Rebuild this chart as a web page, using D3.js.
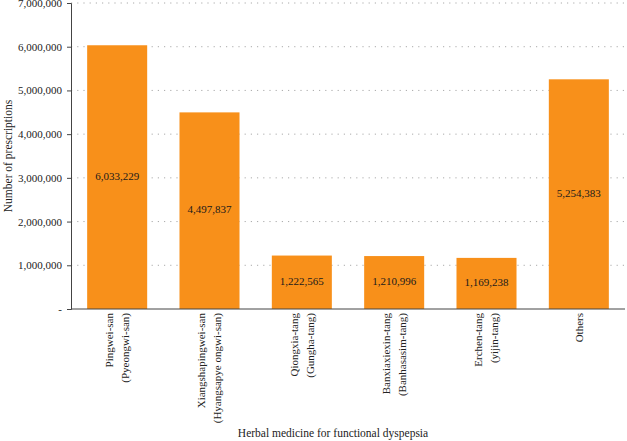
<!DOCTYPE html>
<html>
<head>
<meta charset="utf-8">
<script src="https://cdn.jsdelivr.net/npm/d3@7"></script>
<style>
  body { margin: 0; background: #fff; }
  svg, svg text { font-family: "Liberation Serif", "DejaVu Serif", serif; }
  .axis text { font-size: 11px; fill: #222; }
  .grid line { stroke: #aaa; stroke-dasharray: 1.2 5; }
</style>
</head>
<body>
<div id="chart"></div>
<script>
const categories = [
  ['Pingwei-san', '(Pyeongwi-san)'],
  ['Xiangshapingwei-san', '(Hyangsapye ongwi-san)'],
  ['Qiongxia-tang', '(Gungha-tang)'],
  ['Banxiaxiexin-tang', '(Banhasasim-tang)'],
  ['Erchen-tang', '(yijin-tang)'],
  ['Others']
];
const values = [6033229, 4497837, 1222565, 1210996, 1169238, 5254383];
const yTicks = [0, 1000000, 2000000, 3000000, 4000000, 5000000, 6000000, 7000000];

const width = 627, height = 441;
const margin = { top: 3, right: 2, bottom: 132, left: 71 };
const innerW = width - margin.left - margin.right;
const innerH = height - margin.top - margin.bottom;

const svg = d3.select('#chart').append('svg')
  .attr('width', width)
  .attr('height', height);

const g = svg.append('g')
  .attr('transform', `translate(${margin.left},${margin.top})`);

const x = d3.scaleBand()
  .domain(d3.range(categories.length))
  .range([0, innerW])
  .paddingInner(0.35)
  .paddingOuter(0.175);

const y = d3.scaleLinear()
  .domain([0, 7000000])
  .range([innerH, 0]);

const fmt = d3.format(',');

// dotted gridlines
g.append('g')
  .attr('class', 'grid')
  .selectAll('line')
  .data(yTicks.slice(1))
  .join('line')
  .attr('x1', 0)
  .attr('x2', innerW)
  .attr('y1', d => y(d))
  .attr('y2', d => y(d));

g.selectAll('.bar')
  .data(values)
  .join('rect')
  .attr('class', 'bar')
  .attr('x', (d, i) => x(i))
  .attr('y', d => y(d))
  .attr('width', x.bandwidth())
  .attr('height', d => innerH - y(d))
  .attr('fill', '#f8901a');

g.selectAll('.bar-label')
  .data(values)
  .join('text')
  .attr('class', 'bar-label')
  .attr('x', (d, i) => x(i) + x.bandwidth() / 2)
  .attr('y', d => (y(d) + innerH) / 2)
  .attr('text-anchor', 'middle')
  .attr('dominant-baseline', 'middle')
  .attr('font-size', 11)
  .attr('fill', '#1a1a1a')
  .text(d => fmt(d));

// y axis
const yAxisG = g.append('g')
  .attr('class', 'axis')
  .call(d3.axisLeft(y).tickValues(yTicks).tickSize(4).tickPadding(5)
    .tickFormat(d => d === 0 ? '-' : fmt(d)));
yAxisG.attr('font-family', null);
yAxisG.selectAll('path, line').attr('stroke', '#444');

// x axis
const xAxisG = g.append('g')
  .attr('class', 'axis')
  .attr('transform', `translate(0,${innerH})`)
  .call(d3.axisBottom(x).tickSize(0).tickFormat(''));
xAxisG.attr('font-family', null);
xAxisG.select('.domain').attr('stroke', '#444').attr('d', `M0,0H${innerW}`);

xAxisG.selectAll('.tick').each(function (d) {
  const lines = categories[d];
  const t = d3.select(this).append('text')
    .attr('transform', 'rotate(-90)')
    .attr('text-anchor', 'end')
    .attr('font-size', 11.5)
    .attr('fill', '#222');
  const spacing = 16;
  const offset = -(lines.length - 1) * spacing / 2;
  lines.forEach((line, k) => {
    t.append('tspan')
      .attr('x', -4)
      .attr('y', offset + k * spacing)
      .attr('dy', '0.35em')
      .text(line);
  });
});

svg.append('text')
  .attr('x', 333)
  .attr('y', 437)
  .attr('text-anchor', 'middle')
  .attr('font-size', 11.5)
  .attr('fill', '#222')
  .text('Herbal medicine for functional dyspepsia');

svg.append('text')
  .attr('transform', `translate(12,${margin.top + innerH / 2}) rotate(-90)`)
  .attr('text-anchor', 'middle')
  .attr('font-size', 11.5)
  .attr('fill', '#222')
  .text('Number of prescriptions');
</script>
</body>
</html>
